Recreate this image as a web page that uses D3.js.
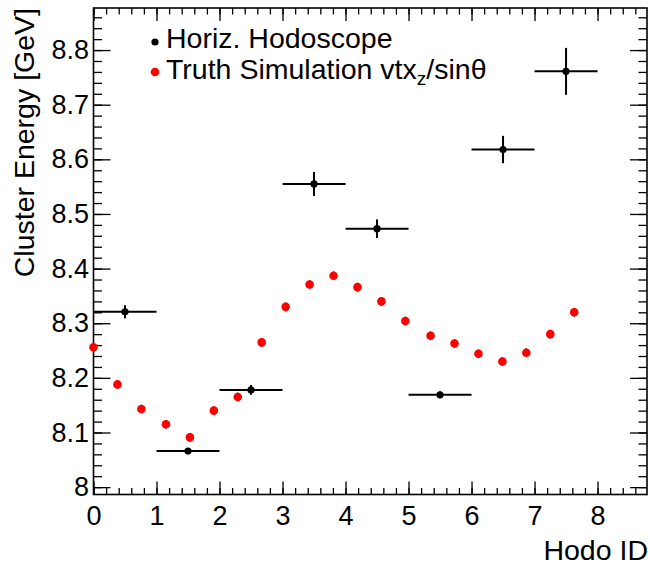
<!DOCTYPE html>
<html>
<head>
<meta charset="utf-8">
<script src="https://cdn.jsdelivr.net/npm/d3@7"></script>
<style>
  body { margin: 0; background: #fff; }
  svg { display: block; font-family: "Liberation Sans", Arial, sans-serif; }
</style>
</head>
<body>
<svg id="chart" width="650" height="568"></svg>
<script>
// Horizontal hodoscope measurements (bin centres, +-0.5 wide)
const hodoX = [0.5, 1.5, 2.5, 3.5, 4.5, 5.5, 6.5, 7.5];
const hodoXErr = [0.5, 0.5, 0.5, 0.5, 0.5, 0.5, 0.5, 0.5];
const hodoY = [8.321, 8.066, 8.178, 8.555, 8.473, 8.169, 8.618, 8.761];
const hodoYErr = [0.012, 0.005, 0.009, 0.022, 0.017, 0.006, 0.025, 0.043];

// Truth simulation vtx_z / sin(theta)
const truthX = [0, 0.38, 0.76, 1.15, 1.53, 1.91, 2.29, 2.67, 3.05, 3.43, 3.81,
  4.19, 4.57, 4.95, 5.35, 5.73, 6.11, 6.49, 6.87, 7.25, 7.63];
const truthY = [8.256, 8.188, 8.143, 8.115, 8.091, 8.140, 8.165, 8.265, 8.330, 8.371, 8.387,
  8.366, 8.340, 8.304, 8.277, 8.263, 8.244, 8.230, 8.246, 8.280, 8.320];
const truthYErr = 0.008;

const legendLabels = ["Horiz. Hodoscope", "Truth Simulation vtx"];

const margin = { top: 8, right: 3, bottom: 73.5, left: 93.5 };
const W = 650, H = 568;
const width = W - margin.left - margin.right;
const height = H - margin.top - margin.bottom;

const svg = d3.select('#chart');
const g = svg.append('g')
  .attr('transform', `translate(${margin.left},${margin.top})`);

const x = d3.scaleLinear().domain([0, 8.785]).range([0, width]);
const y = d3.scaleLinear().domain([7.9865, 8.877]).range([height, 0]);

const FS = 27;      // tick labels
const TFS = 28.5;   // titles and legend
const xMajor = d3.range(0, 9);
const xMinor = d3.range(0, 44).map(i => i * 0.2);
const yMajor = d3.range(0, 9).map(i => 8 + i * 0.1);
const yMinor = d3.range(0, 44).map(i => 8 + i * 0.02);

function styleAxis(sel) {
  sel.select('.domain').remove();
  sel.selectAll('line').attr('stroke', '#000').attr('stroke-width', 1.3);
  sel.selectAll('text').attr('font-size', FS).attr('fill', '#000')
    .attr('font-family', '"Liberation Sans", Arial, sans-serif');
}

// bottom
g.append('g').attr('transform', `translate(0,${height})`)
  .call(d3.axisBottom(x).tickValues(xMajor).tickSizeInner(-13).tickSizeOuter(0).tickPadding(11).tickFormat(d3.format('d')))
  .call(styleAxis);
g.append('g').attr('transform', `translate(0,${height})`)
  .call(d3.axisBottom(x).tickValues(xMinor).tickSizeInner(-6.5).tickSizeOuter(0).tickFormat(''))
  .call(styleAxis);
// top
g.append('g')
  .call(d3.axisTop(x).tickValues(xMajor).tickSizeInner(-13).tickSizeOuter(0).tickFormat(''))
  .call(styleAxis);
g.append('g')
  .call(d3.axisTop(x).tickValues(xMinor).tickSizeInner(-6.5).tickSizeOuter(0).tickFormat(''))
  .call(styleAxis);
// left
g.append('g')
  .call(d3.axisLeft(y).tickValues(yMajor).tickSizeInner(-17).tickSizeOuter(0).tickPadding(4.5)
    .tickFormat(d => d === 8 ? '8' : d3.format('.1f')(d)))
  .call(styleAxis);
g.append('g')
  .call(d3.axisLeft(y).tickValues(yMinor).tickSizeInner(-8.5).tickSizeOuter(0).tickFormat(''))
  .call(styleAxis);
// right
g.append('g').attr('transform', `translate(${width},0)`)
  .call(d3.axisRight(y).tickValues(yMajor).tickSizeInner(-17).tickSizeOuter(0).tickFormat(''))
  .call(styleAxis);
g.append('g').attr('transform', `translate(${width},0)`)
  .call(d3.axisRight(y).tickValues(yMinor).tickSizeInner(-8.5).tickSizeOuter(0).tickFormat(''))
  .call(styleAxis);

// frame
g.append('rect')
  .attr('width', width).attr('height', height)
  .attr('fill', 'none').attr('stroke', '#000').attr('stroke-width', 1.6);

// axis titles
svg.append('text')
  .attr('x', W - 2).attr('y', 560)
  .attr('text-anchor', 'end').attr('font-size', TFS)
  .text('Hodo ID');
svg.append('text')
  .attr('transform', 'translate(34,8) rotate(-90)')
  .attr('text-anchor', 'end').attr('font-size', TFS)
  .text('Cluster Energy [GeV]');

// truth simulation
const truth = truthX.map((v, i) => ({ x: v, y: truthY[i], e: truthYErr }));
const tg = g.append('g');
tg.selectAll('line.err').data(truth).enter().append('line')
  .attr('x1', d => x(d.x)).attr('x2', d => x(d.x))
  .attr('y1', d => y(d.y - d.e)).attr('y2', d => y(d.y + d.e))
  .attr('stroke', '#000').attr('stroke-width', 1.2);
tg.selectAll('circle').data(truth).enter().append('circle')
  .attr('cx', d => x(d.x)).attr('cy', d => y(d.y))
  .attr('r', 4.3).attr('fill', '#ff0000');

// hodoscope data
const hodo = hodoX.map((v, i) => ({ x: v, ex: hodoXErr[i], y: hodoY[i], ey: hodoYErr[i] }));
const hg = g.append('g');
hg.selectAll('line.ex').data(hodo).enter().append('line')
  .attr('x1', d => x(d.x - d.ex)).attr('x2', d => x(d.x + d.ex))
  .attr('y1', d => y(d.y)).attr('y2', d => y(d.y))
  .attr('stroke', '#000').attr('stroke-width', 2);
hg.selectAll('line.ey').data(hodo).enter().append('line')
  .attr('x1', d => x(d.x)).attr('x2', d => x(d.x))
  .attr('y1', d => y(d.y - d.ey)).attr('y2', d => y(d.y + d.ey))
  .attr('stroke', '#000').attr('stroke-width', 2);
hg.selectAll('circle').data(hodo).enter().append('circle')
  .attr('cx', d => x(d.x)).attr('cy', d => y(d.y))
  .attr('r', 3.6).attr('fill', '#000');

// legend
const leg = svg.append('g');
leg.append('circle').attr('cx', 155).attr('cy', 42).attr('r', 3.6).attr('fill', '#000');
leg.append('text').attr('x', 166).attr('y', 48).attr('font-size', TFS).text(legendLabels[0]);
leg.append('circle').attr('cx', 155).attr('cy', 72).attr('r', 4.3).attr('fill', '#ff0000');
const t2 = leg.append('text').attr('x', 166).attr('y', 79).attr('font-size', TFS);
t2.append('tspan').text(legendLabels[1]);
t2.append('tspan').attr('dy', 6).attr('font-size', 19).text('z');
t2.append('tspan').attr('dy', -6).text('/sinθ');
</script>
</body>
</html>
